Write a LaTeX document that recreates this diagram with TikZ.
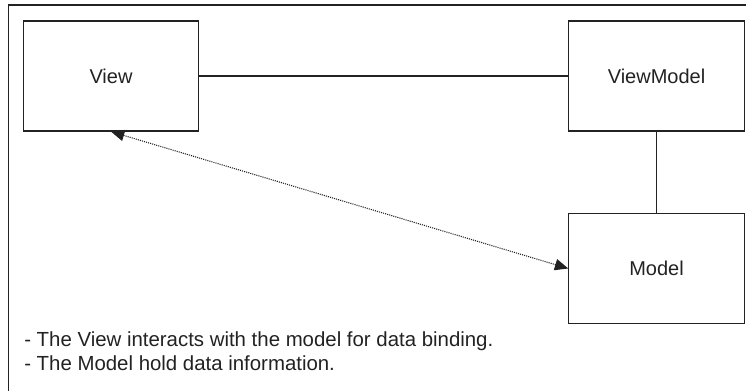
\documentclass[tikz,border=0pt]{standalone}
\usepackage{fontspec}
\setmainfont{Liberation Sans}
\usetikzlibrary{arrows.meta}
\definecolor{ink}{HTML}{222222}
\tikzset{
  box/.style={draw=ink, line width=0.9pt, minimum width=131.5pt, minimum height=82.5pt, inner sep=0pt, font=\fontsize{15}{18}\selectfont, text=ink},
  link/.style={draw=ink, line width=0.8pt},
  dotlink/.style={draw=ink, line width=0.8pt, dash pattern=on 0.8pt off 0.8pt, {Triangle[length=10pt,width=8.5pt]}-{Triangle[length=10pt,width=8.5pt]}},
  note/.style={anchor=base west, inner sep=0pt, font=\fontsize{15.3}{18}\selectfont, text=ink},
  frame/.style={draw=ink, line width=0.9pt}
}
\begin{document}
\begin{tikzpicture}[x=0.75pt, y=-0.75pt]
\useasboundingbox (0,0) rectangle (746,391);
\coordinate (fr1) at (8.5,391);
\coordinate (fr2) at (8.5,5);
\coordinate (fr3) at (746,5);
\draw[frame] (fr1) -- (fr2) -- (fr3);
\node[box] (view) at (111,76) {View};
\node[box] (vm) at (656.5,76) {ViewModel};
\node[box] (model) at (656.5,268.5) {Model};
\draw[link] (view.east) -- (vm.west);
\draw[link] (vm.south) -- (model.north);
\draw[dotlink] (view.south) -- (model.west);
\node[note] (n1) at (24,346.7) {- The View interacts with the model for data binding.};
\node[note] (n2) at (24,371) {- The Model hold data information.};
\end{tikzpicture}
\end{document}
